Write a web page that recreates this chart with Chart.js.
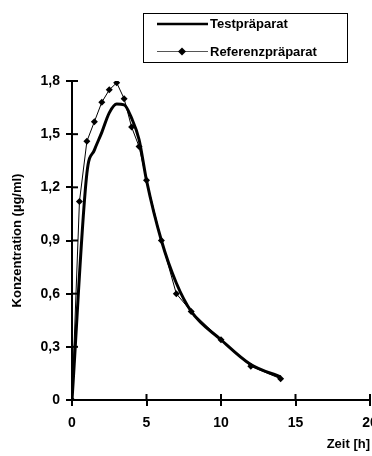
<!DOCTYPE html>
<html>
<head>
<meta charset="utf-8">
<script src="https://cdn.jsdelivr.net/npm/chart.js@4.4.1/dist/chart.umd.min.js"></script>
<style>
  html, body { margin: 0; padding: 0; background: #fff; overflow: hidden; }
  #wrap { width: 390px; height: 456px; }
</style>
</head>
<body>
<div id="wrap"><canvas id="chart" width="390" height="456"></canvas></div>
<script>
// Zeit [h] / Konzentration (µg/ml)
const testTimes = [0, 1, 1.5, 2, 2.5, 3, 3.5, 4, 4.5, 5, 6, 7, 8, 10, 12, 14];
const testValues = [0, 1.28, 1.41, 1.51, 1.62, 1.67, 1.665, 1.59, 1.47, 1.24, 0.9, 0.66, 0.5, 0.34, 0.2, 0.13];

const refTimes = [0, 0.5, 1, 1.5, 2, 2.5, 3, 3.5, 4, 4.5, 5, 6, 7, 8, 10, 12, 14];
const refValues = [0, 1.12, 1.46, 1.57, 1.68, 1.75, 1.79, 1.7, 1.54, 1.43, 1.24, 0.9, 0.6, 0.5, 0.34, 0.19, 0.12];

const xTicks = [0, 5, 10, 15, 20];
const yTicks = [0, 0.3, 0.6, 0.9, 1.2, 1.5, 1.8];

const seriesNames = ['Testpräparat', 'Referenzpräparat'];

const FONT = 'bold 13px "Liberation Sans", Arial, sans-serif';

// ticks that cross the axis line (Chart.js only draws the outer half)
const crossTicks = {
    id: 'crossTicks',
    afterDatasetsDraw(chart) {
        const { ctx, scales: { x, y } } = chart;
        ctx.save();
        ctx.strokeStyle = '#000';
        ctx.lineWidth = 2;
        xTicks.forEach(v => {
            const px = x.getPixelForValue(v);
            ctx.beginPath();
            ctx.moveTo(px, y.bottom);
            ctx.lineTo(px, y.bottom - 6);
            ctx.stroke();
        });
        yTicks.forEach(v => {
            const py = y.getPixelForValue(v);
            ctx.beginPath();
            ctx.moveTo(x.left, py);
            ctx.lineTo(x.left + 6, py);
            ctx.stroke();
        });
        ctx.restore();
    }
};

// boxed legend in the top right corner
const boxLegend = {
    id: 'boxLegend',
    afterDraw(chart) {
        const ctx = chart.ctx;
        ctx.save();
        ctx.strokeStyle = '#000';
        ctx.lineWidth = 1;
        ctx.strokeRect(143.5, 13.5, 204, 49);

        ctx.lineWidth = 2.5;
        ctx.beginPath();
        ctx.moveTo(157, 24);
        ctx.lineTo(208, 24);
        ctx.stroke();

        ctx.lineWidth = 1;
        ctx.strokeStyle = '#555';
        ctx.beginPath();
        ctx.moveTo(157, 51.5);
        ctx.lineTo(208, 51.5);
        ctx.stroke();
        ctx.fillStyle = '#000';
        ctx.beginPath();
        ctx.moveTo(182, 47.5);
        ctx.lineTo(186, 51.5);
        ctx.lineTo(182, 55.5);
        ctx.lineTo(178, 51.5);
        ctx.closePath();
        ctx.fill();

        ctx.font = FONT;
        ctx.textBaseline = 'middle';
        ctx.textAlign = 'left';
        ctx.fillText(seriesNames[0], 210, 24);
        ctx.fillText(seriesNames[1], 210, 52);
        ctx.restore();
    }
};

const fontOpt = { family: '"Liberation Sans", Arial, sans-serif', size: 13, weight: 'bold' };
const tickFont = { family: '"Liberation Sans", Arial, sans-serif', size: 14, weight: 'bold' };

new Chart(document.getElementById('chart'), {
    type: 'line',
    data: {
        datasets: [{
            label: seriesNames[0],
            data: testTimes.map((t, i) => ({ x: t, y: testValues[i] })),
            borderColor: '#000',
            borderWidth: 3,
            pointRadius: 0,
            cubicInterpolationMode: 'monotone',
            fill: false
        }, {
            label: seriesNames[1],
            data: refTimes.map((t, i) => ({ x: t, y: refValues[i] })),
            borderColor: '#000',
            borderWidth: 1,
            pointStyle: 'rectRot',
            pointRadius: 3.5,
            pointBackgroundColor: '#000',
            pointBorderColor: '#000',
            pointBorderWidth: 0,
            tension: 0,
            fill: false
        }]
    },
    options: {
        responsive: false,
        animation: false,
        devicePixelRatio: 1,
        layout: { padding: { top: 81, right: 20, left: 0, bottom: 0 } },
        plugins: { legend: { display: false }, tooltip: { enabled: false } },
        scales: {
            x: {
                type: 'linear',
                min: 0,
                max: 20,
                afterFit(scale) { scale.height = 56; },
                afterBuildTicks(scale) { scale.ticks = xTicks.map(v => ({ value: v })); },
                border: { display: true, color: '#000', width: 2 },
                grid: { drawOnChartArea: false, drawTicks: true, tickLength: 6, color: '#000', lineWidth: 2 },
                ticks: { color: '#000', font: tickFont, padding: 9, maxRotation: 0 },
                title: { display: true, text: 'Zeit [h]', align: 'end', color: '#000', font: fontOpt, padding: { top: 5 } }
            },
            y: {
                type: 'linear',
                min: 0,
                max: 1.8,
                afterFit(scale) { scale.width = 72; },
                afterBuildTicks(scale) { scale.ticks = yTicks.map(v => ({ value: v })); },
                border: { display: true, color: '#000', width: 2 },
                grid: { drawOnChartArea: false, drawTicks: true, tickLength: 6, color: '#000', lineWidth: 2 },
                ticks: {
                    color: '#000',
                    font: tickFont,
                    padding: 6,
                    callback: v => v === 0 ? '0' : v.toFixed(1).replace('.', ',')
                },
                title: { display: true, text: 'Konzentration (µg/ml)', color: '#000', font: fontOpt, padding: { top: 10 } }
            }
        }
    },
    plugins: [crossTicks, boxLegend]
});
</script>
</body>
</html>
